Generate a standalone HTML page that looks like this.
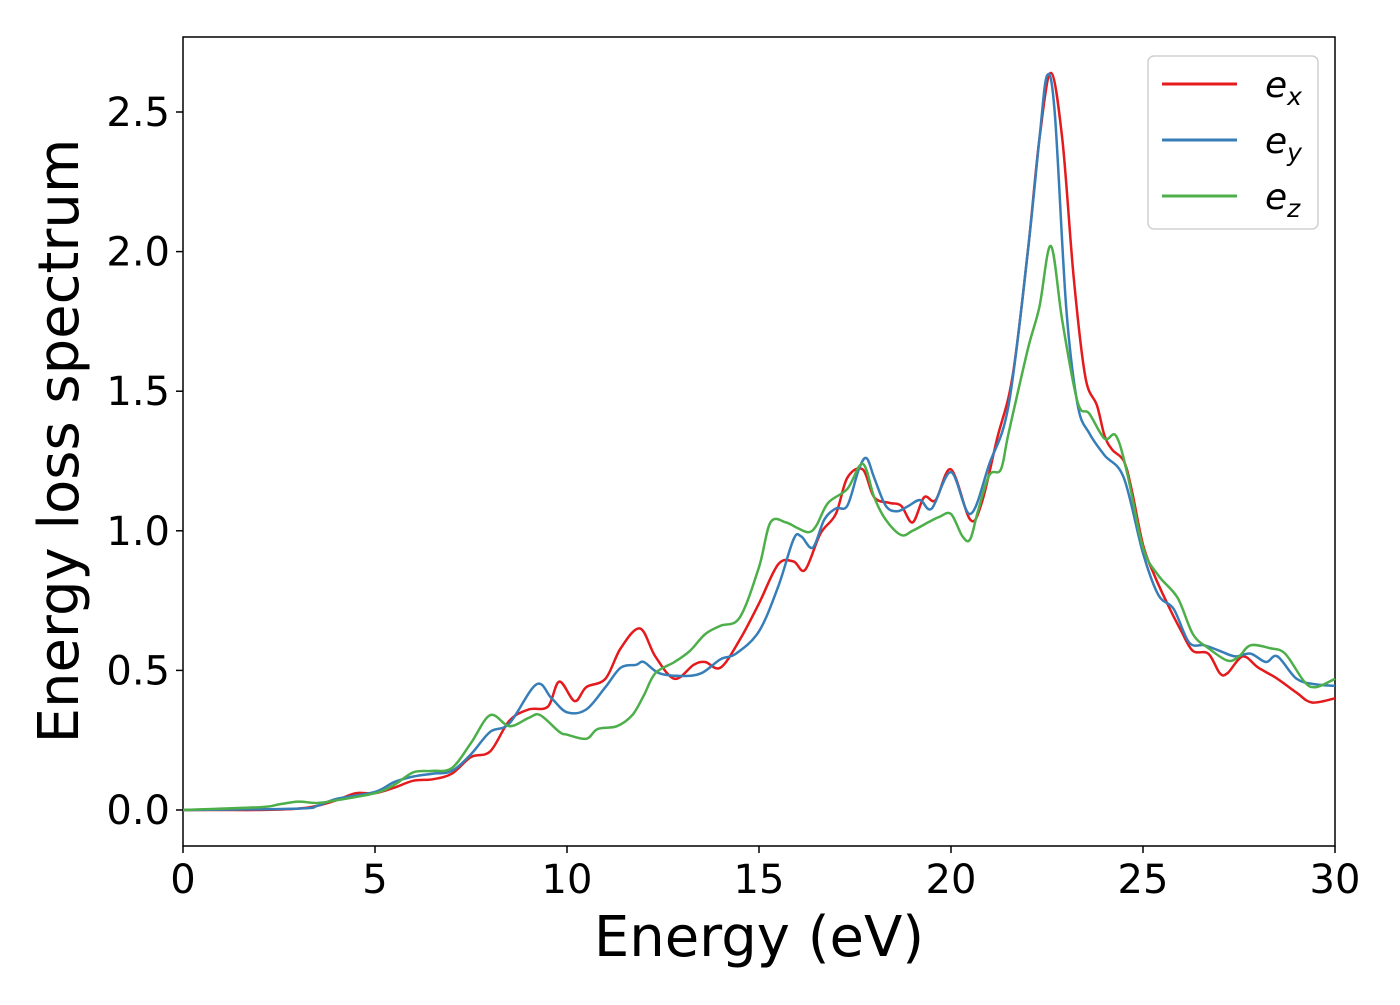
<!DOCTYPE html>
<html><head><meta charset="utf-8"><style>
body{margin:0;background:#fff;}
svg{font-family:"DejaVu Sans","Liberation Sans",sans-serif;}
</style></head><body>
<svg id="chart" width="1400" height="1000">
<rect x="183" y="37" width="1152" height="809" fill="#fff" stroke="#000" stroke-width="1.5"/>
<g id="ticks"></g>
<g id="series"></g>
<text x="759" y="956" font-size="56" text-anchor="middle">Energy (eV)</text>
<text transform="translate(78,441) rotate(-90)" font-size="56" text-anchor="middle">Energy loss spectrum</text>
<g>
<rect x="1148" y="56" width="170" height="173" rx="6" fill="#fff" stroke="#ccc" stroke-width="1.5" opacity="0.9"/>
<line x1="1162" y1="84" x2="1237" y2="84" stroke="#e41a1c" stroke-width="3"/>
<text x="1265" y="97" font-size="36" font-style="italic">e<tspan font-size="25" dy="8">x</tspan></text>
<line x1="1162" y1="140" x2="1237" y2="140" stroke="#377eb8" stroke-width="3"/>
<text x="1265" y="153" font-size="36" font-style="italic">e<tspan font-size="25" dy="8">y</tspan></text>
<line x1="1162" y1="196" x2="1237" y2="196" stroke="#4daf4a" stroke-width="3"/>
<text x="1265" y="209" font-size="36" font-style="italic">e<tspan font-size="25" dy="8">z</tspan></text>
</g>
</svg>
<script>
const xTicks=[0,5,10,15,20,25,30];
const yTicks=[0,0.5,1.0,1.5,2.0,2.5];
const yTickLabels=["0.0","0.5","1.0","1.5","2.0","2.5"];
const exE=[0,1,2,3,3.5,4,4.5,5,5.5,6,6.5,7,7.5,8,8.5,9,9.5,9.8,10.2,10.5,11,11.4,11.9,12.3,12.8,13.3,13.6,14,14.5,15,15.5,15.9,16.2,16.6,17,17.3,17.7,18,18.4,18.7,19,19.3,19.6,20,20.5,20.8,21.2,21.6,22,22.3,22.6,22.9,23.2,23.5,23.8,24,24.2,24.5,24.7,25,25.3,25.7,26,26.3,26.7,27,27.2,27.6,28,28.5,29,29.4,30];
const exV=[0,0,0,0.005,0.015,0.035,0.06,0.06,0.08,0.105,0.11,0.13,0.19,0.21,0.32,0.36,0.37,0.46,0.39,0.44,0.47,0.58,0.65,0.55,0.47,0.52,0.53,0.51,0.61,0.74,0.88,0.89,0.86,0.99,1.06,1.19,1.22,1.12,1.10,1.09,1.03,1.12,1.11,1.22,1.04,1.10,1.33,1.55,2.0,2.4,2.64,2.4,1.9,1.55,1.45,1.34,1.29,1.25,1.15,0.95,0.84,0.72,0.64,0.57,0.56,0.49,0.49,0.55,0.51,0.47,0.42,0.385,0.40];
const eyE=[0,3,3.5,4,5,5.5,6,6.5,7,7.5,8,8.5,9.2,9.6,10,10.5,11,11.4,11.8,12,12.4,13,13.5,14,14.4,15,15.5,15.9,16.1,16.4,16.7,17,17.3,17.6,17.8,18,18.3,18.6,18.9,19.2,19.5,20,20.5,21,21.5,22,22.3,22.5,22.7,23,23.3,23.6,24,24.5,25,25.4,25.8,26.2,26.6,27,27.4,27.8,28.2,28.5,29,29.5,30];
const eyV=[0,0.005,0.015,0.04,0.065,0.1,0.12,0.13,0.14,0.2,0.28,0.31,0.45,0.40,0.35,0.36,0.44,0.51,0.52,0.53,0.49,0.48,0.49,0.54,0.56,0.64,0.80,0.97,0.98,0.94,1.04,1.08,1.09,1.22,1.26,1.19,1.09,1.07,1.09,1.11,1.08,1.21,1.06,1.24,1.45,2.0,2.4,2.63,2.5,1.8,1.45,1.35,1.27,1.19,0.92,0.77,0.72,0.60,0.59,0.57,0.55,0.56,0.53,0.55,0.47,0.45,0.445];
const ezE=[0,2,2.5,3,3.5,4,5,5.5,6,6.5,7,7.5,8,8.5,9,9.3,9.8,10,10.5,10.8,11.3,11.7,12,12.3,12.8,13.2,13.6,14,14.5,15,15.3,15.7,16,16.3,16.5,16.8,17.3,17.7,18,18.3,18.7,19,19.4,19.7,20,20.3,20.5,20.7,21,21.3,21.5,22,22.3,22.6,22.9,23.3,23.6,24,24.3,24.6,25,25.4,25.9,26.3,26.7,27.2,27.5,27.8,28.3,28.7,29.2,29.5,30];
const ezV=[0,0.01,0.02,0.03,0.025,0.035,0.06,0.09,0.135,0.14,0.15,0.24,0.34,0.30,0.33,0.34,0.28,0.27,0.255,0.29,0.30,0.34,0.41,0.49,0.53,0.57,0.63,0.66,0.69,0.87,1.03,1.03,1.01,0.995,1.02,1.10,1.15,1.24,1.12,1.04,0.985,1.0,1.03,1.05,1.06,0.98,0.97,1.07,1.2,1.22,1.35,1.65,1.80,2.02,1.75,1.46,1.42,1.33,1.34,1.2,0.94,0.84,0.76,0.63,0.58,0.535,0.55,0.59,0.58,0.56,0.46,0.44,0.47];
const NS="http://www.w3.org/2000/svg";
const X=v=>183+v*1152/30;
const Y=v=>810-v*279.2;
const tg=document.getElementById('ticks');
xTicks.forEach(t=>{
 const l=document.createElementNS(NS,'line');
 l.setAttribute('x1',X(t));l.setAttribute('x2',X(t));l.setAttribute('y1',846);l.setAttribute('y2',853);l.setAttribute('stroke','#000');l.setAttribute('stroke-width','1.5');
 
 
 tg.appendChild(l);
 const tx=document.createElementNS(NS,'text');
 tx.setAttribute('x',X(t));tx.setAttribute('y',893);tx.setAttribute('font-size','40');tx.setAttribute('text-anchor','middle');tx.textContent=t;
 
 
 tg.appendChild(tx);
});
yTicks.forEach((t,i)=>{
 const l=document.createElementNS(NS,'line');
 l.setAttribute('x1',176);l.setAttribute('x2',183);l.setAttribute('y1',Y(t));l.setAttribute('y2',Y(t));l.setAttribute('stroke','#000');l.setAttribute('stroke-width','1.5');
 
 
 tg.appendChild(l);
 const tx=document.createElementNS(NS,'text');
 tx.setAttribute('x',170);tx.setAttribute('y',Y(t)+14);tx.setAttribute('font-size','40');tx.setAttribute('text-anchor','end');tx.textContent=yTickLabels[i];
 
 
 tg.appendChild(tx);
});
function pathFor(xs,ys){
 const p=xs.map((x,i)=>[X(x),Y(ys[i])]);
 let d='M'+p[0][0]+','+p[0][1];
 for(let i=0;i<p.length-1;i++){
  const p0=p[Math.max(0,i-1)],p1=p[i],p2=p[i+1],p3=p[Math.min(p.length-1,i+2)];
  const c1=[p1[0]+(p2[0]-p0[0])/6,p1[1]+(p2[1]-p0[1])/6];
  const c2=[p2[0]-(p3[0]-p1[0])/6,p2[1]-(p3[1]-p1[1])/6];
  d+=' C'+c1[0].toFixed(1)+','+c1[1].toFixed(1)+' '+c2[0].toFixed(1)+','+c2[1].toFixed(1)+' '+p2[0].toFixed(1)+','+p2[1].toFixed(1);
 }
 return d;
}
const sg=document.getElementById('series');
[[exE,exV,'#e41a1c','series-ex'],[eyE,eyV,'#377eb8','series-ey'],[ezE,ezV,'#4daf4a','series-ez']].forEach(s=>{
 const pa=document.createElementNS(NS,'path');
 pa.setAttribute('d',pathFor(s[0],s[1]));pa.setAttribute('fill','none');pa.setAttribute('stroke',s[2]);pa.setAttribute('stroke-width','2.5');
 
 
 sg.appendChild(pa);
});
</script>
</body></html>
